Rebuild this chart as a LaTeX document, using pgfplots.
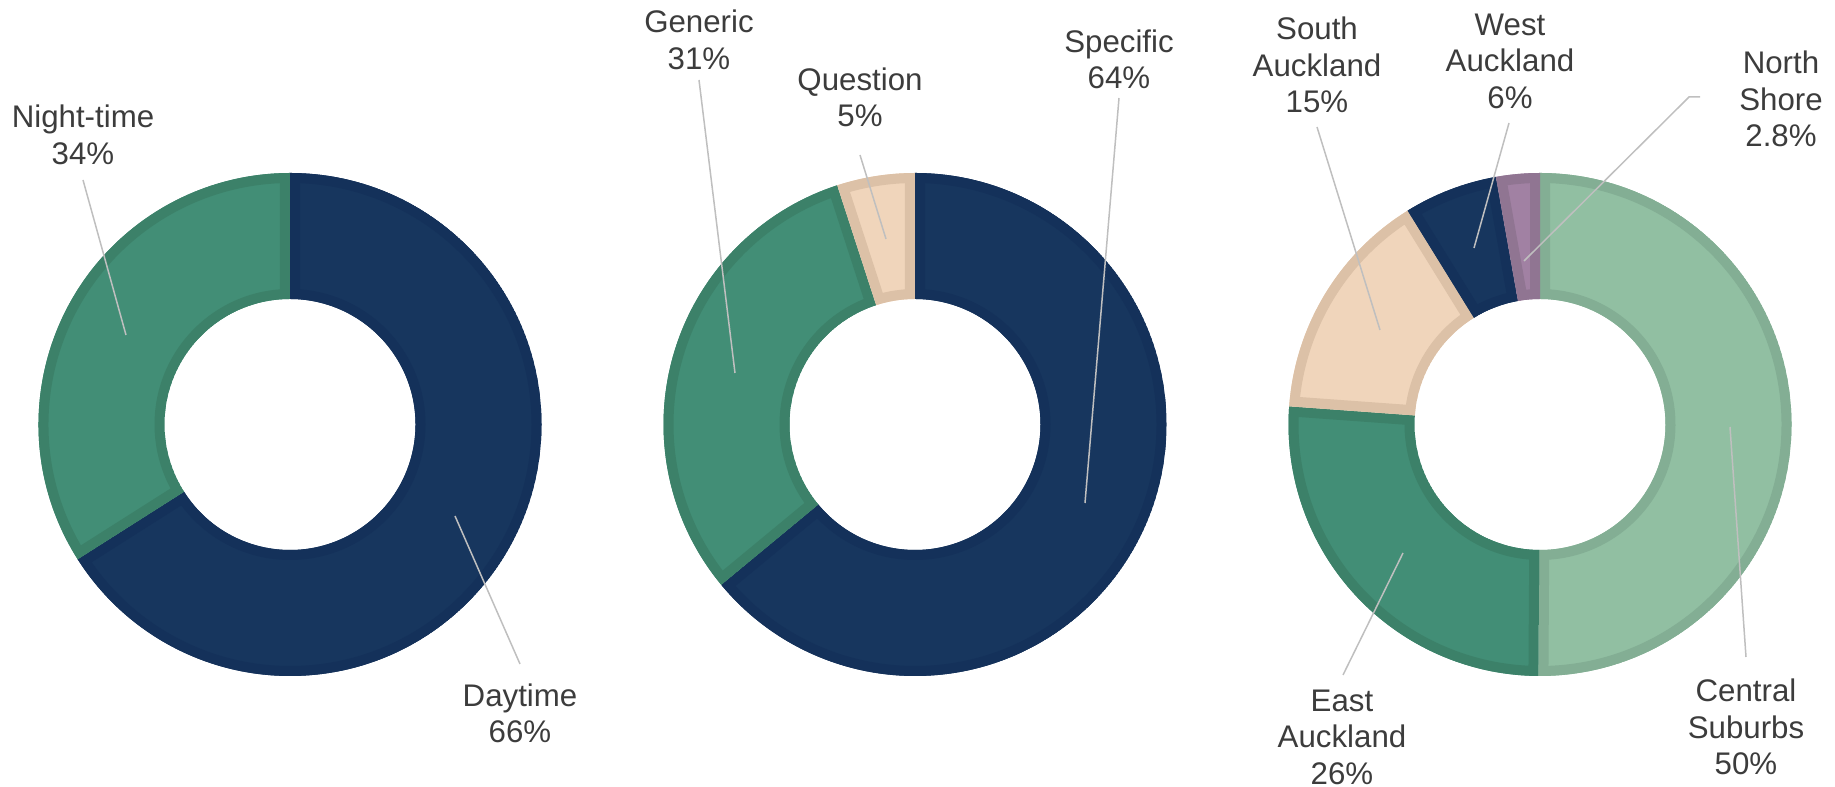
\documentclass[border=0pt]{standalone}
\usepackage{pgfplots}
\pgfplotsset{compat=1.18}
\usepackage{fontspec}
\setmainfont{Liberation Sans}
\definecolor{cnavy}{HTML}{17365E}
\definecolor{cnavyB}{HTML}{14315A}
\definecolor{cgreen}{HTML}{428E76}
\definecolor{cgreenB}{HTML}{3C8169}
\definecolor{cpeach}{HTML}{F0D5BB}
\definecolor{cpeachB}{HTML}{DCC1A7}
\definecolor{clgreen}{HTML}{91BFA2}
\definecolor{clgreenB}{HTML}{83AE94}
\definecolor{cpurple}{HTML}{A181A3}
\definecolor{cpurpleB}{HTML}{907592}
\definecolor{ctext}{HTML}{3C3C3C}
\definecolor{cleader}{HTML}{BFBFBF}

\def\Ro{100.6pt}
\def\Ri{50.2pt}
% ring sector path around the current origin
\def\slicepath#1#2{(canvas polar cs:angle=#1,radius=\Ro) arc[start angle=#1,end angle=#2,radius=\Ro]
      -- (canvas polar cs:angle=#2,radius=\Ri) arc[start angle=#2,end angle=#1,radius=\Ri] -- cycle}
% cx, cy (axis units), start angle, end angle, fill, border
\protected\def\slice#1#2#3#4#5#6{%
  \begin{scope}[shift={(axis cs:#1,#2)}]
    \clip \slicepath{#3}{#4};
    \fill[fill=#5] \slicepath{#3}{#4};
    \draw[draw=#6,line width=8pt] \slicepath{#3}{#4};
  \end{scope}}
% build donut: name, cx, cy, total, list value/fill/border (clockwise from top)
\newcommand\builddonut[5]{%
  \gdef\acc{}\xdef\cum{90}%
  \foreach \v/\fc/\bc in {#5}{%
    \pgfmathsetmacro\nxt{\cum-\v/#4*360}%
    \xdef\acc{\acc\slice{#2}{#3}{\cum}{\nxt}{\fc}{\bc}}%
    \xdef\cum{\nxt}%
  }%
  \global\expandafter\let\csname donut#1\endcsname\acc}

\builddonut{A}{290}{362.5}{100}{66/cnavy/cnavyB, 34/cgreen/cgreenB}
\builddonut{B}{915}{362.5}{100}{64/cnavy/cnavyB, 31/cgreen/cgreenB, 5/cpeach/cpeachB}
\builddonut{C}{1540}{362.5}{99.8}{50/clgreen/clgreenB, 26/cgreen/cgreenB, 15/cpeach/cpeachB, 6/cnavy/cnavyB, 2.8/cpurple/cpurpleB}

\tikzset{lbl/.style={font=\fontsize{12.5}{14.6}\selectfont, text=ctext, align=center, inner sep=0pt},
         lead/.style={draw=cleader, line width=0.6pt}}

\begin{document}
\begin{tikzpicture}
\begin{axis}[x=0.4pt, y=0.4pt, xmin=0, xmax=1835, ymin=0, ymax=787,
  enlargelimits=false, hide axis, clip=false]
\pgfplotsextra{\donutA\donutB\donutC}
  \path (axis cs:0,0) rectangle (axis cs:1835,787);
  % leader lines
  \draw[lead] (axis cs:83,607) -- (axis cs:126,452);
  \draw[lead] (axis cs:455,271) -- (axis cs:520,123);
  \draw[lead] (axis cs:699,707) -- (axis cs:735,414);
  \draw[lead] (axis cs:860,632) -- (axis cs:886,548);
  \draw[lead] (axis cs:1119,689) -- (axis cs:1085,284);
  \draw[lead] (axis cs:1317,660) -- (axis cs:1380,457);
  \draw[lead] (axis cs:1509,664) -- (axis cs:1474,539);
  \draw[lead] (axis cs:1700,690) -- (axis cs:1689,690) -- (axis cs:1524,526);
  \draw[lead] (axis cs:1343,112) -- (axis cs:1403,234);
  \draw[lead] (axis cs:1746,130) -- (axis cs:1730,360);
  % labels
  \node[lbl] at (axis cs:83,652) {Night-time\\34\%};
  \node[lbl] at (axis cs:520,73.5) {Daytime\\66\%};
  \node[lbl] at (axis cs:699,747) {Generic\\31\%};
  \node[lbl] at (axis cs:860,689.5) {Question\\5\%};
  \node[lbl] at (axis cs:1119,727.5) {Specific\\64\%};
  \node[lbl] at (axis cs:1317,722) {South\\Auckland\\15\%};
  \node[lbl] at (axis cs:1510,726) {West\\Auckland\\6\%};
  \node[lbl] at (axis cs:1781,688) {North\\Shore\\2.8\%};
  \node[lbl] at (axis cs:1342,50) {East\\Auckland\\26\%};
  \node[lbl] at (axis cs:1746,60) {Central\\Suburbs\\50\%};
\end{axis}
\end{tikzpicture}
\end{document}
